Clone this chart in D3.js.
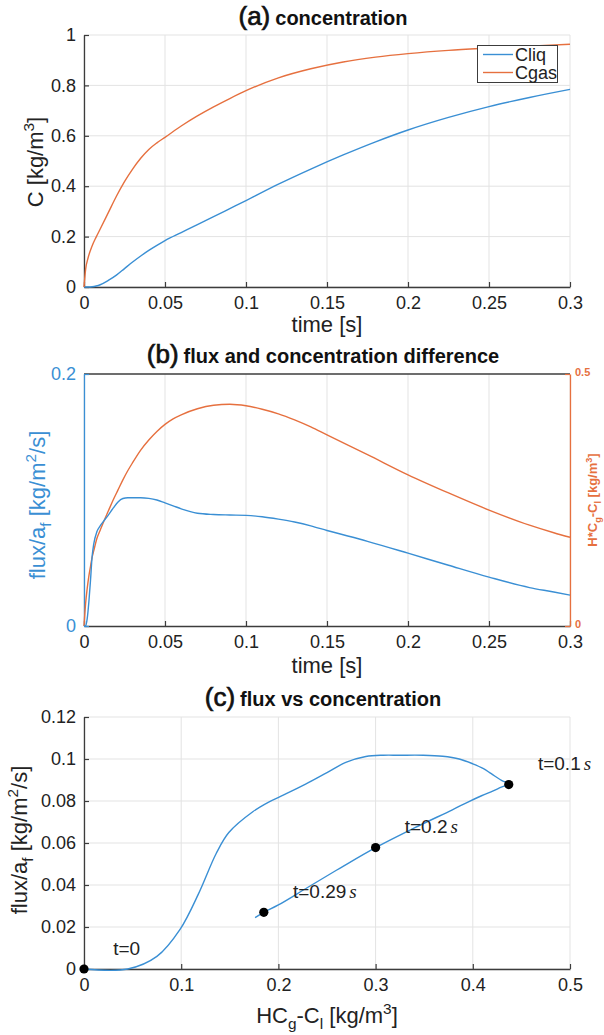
<!DOCTYPE html>
<html>
<head>
<meta charset="utf-8">
<script src="https://cdn.jsdelivr.net/npm/d3@7"></script>
<style>
  body { margin: 0; background: #fff; }
  text { font-family: "Liberation Sans", Arial, Helvetica, sans-serif; }
</style>
</head>
<body>
<svg id="fig" width="604" height="1035"></svg>
<script>
// ---- (a) concentration histories ----
const tConc = [0, 0.001, 0.0025, 0.005, 0.0075, 0.01, 0.015, 0.02, 0.025, 0.03, 0.035, 0.04, 0.045, 0.05,
               0.06, 0.07, 0.08, 0.09, 0.1, 0.12, 0.14, 0.16, 0.18, 0.2, 0.225, 0.25, 0.275, 0.3];
const cLiq  = [0, 0, 0, 0.001, 0.004, 0.009, 0.026, 0.047, 0.073, 0.099, 0.123, 0.145, 0.165, 0.184,
               0.216, 0.248, 0.279, 0.311, 0.343, 0.408, 0.468, 0.524, 0.576, 0.623, 0.673, 0.716, 0.752, 0.784];
const cGas  = [0, 0.07, 0.115, 0.163, 0.198, 0.230, 0.295, 0.360, 0.418, 0.468, 0.511, 0.546, 0.572, 0.594,
               0.639, 0.679, 0.715, 0.748, 0.779, 0.830, 0.866, 0.893, 0.912, 0.926, 0.939, 0.948, 0.956, 0.963];

// ---- (b)/(c) flux and driving concentration difference ----
const tFlux = [0, 0.001, 0.002, 0.003, 0.004, 0.005, 0.006, 0.008, 0.010, 0.012, 0.015, 0.018, 0.021, 0.024,
               0.027, 0.030, 0.035, 0.040, 0.045, 0.050, 0.055, 0.060, 0.070, 0.080, 0.090, 0.100, 0.110,
               0.120, 0.130, 0.140, 0.150, 0.175, 0.200, 0.225, 0.250, 0.275, 0.290, 0.300];
const flux  = [0, 0, 0.006, 0.019, 0.036, 0.055, 0.065, 0.075, 0.0795, 0.083, 0.088, 0.0935, 0.0985, 0.1012,
               0.1018, 0.1018, 0.1018, 0.1013, 0.1000, 0.0977, 0.0954, 0.0930, 0.0895, 0.0885, 0.0881, 0.0878,
               0.0867, 0.0848, 0.0825, 0.0795, 0.0758, 0.0672, 0.0578, 0.0482, 0.0388, 0.0305, 0.0270, 0.0245];
const drive = [0, 0.045, 0.075, 0.099, 0.118, 0.136, 0.149, 0.174, 0.190, 0.206, 0.228, 0.250, 0.270, 0.290,
               0.308, 0.324, 0.349, 0.369, 0.386, 0.400, 0.411, 0.419, 0.431, 0.438, 0.440, 0.437, 0.430,
               0.421, 0.409, 0.395, 0.379, 0.340, 0.300, 0.264, 0.230, 0.200, 0.185, 0.176];

// marked instants on the flux/concentration trajectory
const markTimes  = [0, 0.1, 0.2, 0.29];
const markLabels = ["t=0", "t=0.1", "t=0.2", "t=0.29"];
const markUnits  = ["", "s", "s", "s"];

// ---- ticks ----
const timeTicks   = [0, 0.05, 0.1, 0.15, 0.2, 0.25, 0.3];
const concTicks   = [0, 0.2, 0.4, 0.6, 0.8, 1];
const fluxTicksB  = [0, 0.2];
const driveTicksB = [0, 0.5];
const fluxTicksC  = [0, 0.02, 0.04, 0.06, 0.08, 0.1, 0.12];
const driveTicksC = [0, 0.1, 0.2, 0.3, 0.4, 0.5];
const legendNames = ["Cliq", "Cgas"];

// ---- styling ----
const BLUE = "#3a8fd4", ORANGE = "#e6703f", AXIS = "#3c3c3c", TXT = "#222", GRID = "#e3e3e3";
const TICK_FS = 18, LABEL_FS = 22;
const X0 = 84, X1 = 570;

const svg = d3.select("#fig");
svg.append("rect").attr("width", 604).attr("height", 1035).attr("fill", "#fff");

const fmt = d => String(+(+d).toFixed(3));

// writes text made of plain / sub / sup pieces
function rich(textSel, parts, size) {
  let shift = 0;
  parts.forEach(p => {
    const [str, kind] = p;
    const target = kind === "sub" ? 0.28 * size : kind === "sup" ? -0.4 * size : 0;
    const ts = textSel.append("tspan").text(str).attr("dy", target - shift);
    if (kind) ts.attr("font-size", 0.7 * size);
    shift = target;
  });
  return textSel;
}

function title(y, tag, rest) {
  const t = svg.append("text").attr("x", 323).attr("y", y).attr("text-anchor", "middle")
    .attr("font-weight", "bold").attr("fill", "#111");
  t.append("tspan").attr("font-size", 26).attr("font-weight", "normal").attr("stroke", "#111")
    .attr("stroke-width", 0.7).text(tag);
  t.append("tspan").attr("font-size", 20).attr("dx", 5).text(rest);
}

function grid(g, x, y, xt, yt, top, bottom) {
  g.selectAll("line.gx").data(xt).join("line").attr("class", "gx")
    .attr("x1", d => x(d)).attr("x2", d => x(d)).attr("y1", top).attr("y2", bottom)
    .attr("stroke", GRID).attr("stroke-width", 1);
  if (yt) g.selectAll("line.gy").data(yt).join("line").attr("class", "gy")
    .attr("x1", X0).attr("x2", X1).attr("y1", d => y(d)).attr("y2", d => y(d))
    .attr("stroke", GRID).attr("stroke-width", 1);
}

function styleAxis(g, color, fs, weight) {
  g.select(".domain").attr("stroke", color).attr("stroke-width", 1.3);
  g.selectAll(".tick line").attr("stroke", color).attr("stroke-width", 1.2);
  g.selectAll(".tick text").attr("fill", color).attr("font-size", fs)
    .attr("font-family", "'Liberation Sans', Arial, sans-serif").attr("font-weight", weight || "normal");
}

function bottomAxis(x, y0, ticks) {
  const g = svg.append("g").attr("transform", `translate(0,${y0})`)
    .call(d3.axisBottom(x).tickValues(ticks).tickFormat(fmt).tickSizeInner(-5).tickSizeOuter(0).tickPadding(9));
  styleAxis(g, AXIS, TICK_FS);
  g.selectAll(".tick text").attr("fill", TXT);
  return g;
}
function leftAxis(y, ticks, color) {
  const g = svg.append("g").attr("transform", `translate(${X0},0)`)
    .call(d3.axisLeft(y).tickValues(ticks).tickFormat(fmt).tickSizeInner(-5).tickSizeOuter(0).tickPadding(8));
  styleAxis(g, color || AXIS, TICK_FS);
  if (!color) g.selectAll(".tick text").attr("fill", TXT);
  return g;
}

function yLabel(xBase, yc, parts, color, size, weight) {
  const t = svg.append("text").attr("transform", `translate(${xBase},${yc}) rotate(-90)`)
    .attr("text-anchor", "middle").attr("font-size", size).attr("fill", color)
    .attr("font-weight", weight || "normal");
  return rich(t, parts, size);
}
function xLabel(yBase, parts) {
  const t = svg.append("text").attr("x", 327).attr("y", yBase).attr("text-anchor", "middle")
    .attr("font-size", LABEL_FS).attr("fill", TXT);
  return rich(t, parts, LABEL_FS);
}

// ================= (a) concentration =================
{
  const top = 35, bot = 287;
  const x = d3.scaleLinear().domain([0, 0.3]).range([X0, X1]);
  const y = d3.scaleLinear().domain([0, 1]).range([bot, top]);
  grid(svg.append("g"), x, y, timeTicks, concTicks, top, bot);
  bottomAxis(x, bot, timeTicks);
  leftAxis(y, concTicks);

  const line = d3.line().curve(d3.curveMonotoneX).x(d => x(d[0])).y(d => y(d[1]));
  svg.append("path").datum(tConc.map((t, i) => [t, cLiq[i]])).attr("d", line)
    .attr("fill", "none").attr("stroke", BLUE).attr("stroke-width", 1.4);
  svg.append("path").datum(tConc.map((t, i) => [t, cGas[i]])).attr("d", line)
    .attr("fill", "none").attr("stroke", ORANGE).attr("stroke-width", 1.4);

  // legend
  const lg = svg.append("g");
  lg.append("rect").attr("x", 477.5).attr("y", 45.5).attr("width", 80).attr("height", 37)
    .attr("fill", "#fff").attr("stroke", AXIS).attr("stroke-width", 1);
  [BLUE, ORANGE].forEach((c, i) => {
    const yy = 54.5 + i * 18;
    lg.append("line").attr("x1", 483).attr("x2", 513).attr("y1", yy).attr("y2", yy)
      .attr("stroke", c).attr("stroke-width", 1.4);
    lg.append("text").attr("x", 515).attr("y", yy + 6).attr("font-size", 18).attr("fill", TXT)
      .text(legendNames[i]);
  });

  title(25, "(a)", "concentration");
  xLabel(332, [["time [s]"]]);
  yLabel(43, 162, [["C [kg/m"], ["3", "sup"], ["]"]], TXT, LABEL_FS);
}

// ================= (b) flux and concentration difference =================
{
  const top = 374, bot = 626;
  const x = d3.scaleLinear().domain([0, 0.3]).range([X0, X1]);
  const yL = d3.scaleLinear().domain([0, 0.2]).range([bot, top]);
  const yR = d3.scaleLinear().domain([0, 0.5]).range([bot, top]);
  grid(svg.append("g"), x, null, timeTicks, null, top, bot);
  svg.append("line").attr("x1", X0).attr("x2", X1).attr("y1", top).attr("y2", top)
    .attr("stroke", AXIS).attr("stroke-width", 1.3);
  bottomAxis(x, bot, timeTicks);
  leftAxis(yL, fluxTicksB, BLUE);
  const gR = svg.append("g").attr("transform", `translate(${X1},0)`)
    .call(d3.axisRight(yR).tickValues(driveTicksB).tickFormat(fmt).tickSizeInner(-5).tickSizeOuter(0).tickPadding(5));
  styleAxis(gR, ORANGE, 11, "bold");
  gR.selectAll(".tick text").attr("dy", "0.1em");

  const fl = d3.line().curve(d3.curveMonotoneX).x((d, i) => x(tFlux[i])).y(d => yL(d));
  const dl = d3.line().curve(d3.curveMonotoneX).x((d, i) => x(tFlux[i])).y(d => yR(d));
  svg.append("path").datum(drive).attr("d", dl).attr("fill", "none").attr("stroke", ORANGE).attr("stroke-width", 1.4);
  svg.append("path").datum(flux).attr("d", fl).attr("fill", "none").attr("stroke", BLUE).attr("stroke-width", 1.4);

  title(363, "(b)", "flux and concentration difference");
  xLabel(673, [["time [s]"]]);
  yLabel(45, 505, [["flux/a"], ["f", "sub"], [" [kg/m"], ["2", "sup"], ["/s]"]], BLUE, LABEL_FS);
  yLabel(597, 500, [["H*C"], ["g", "sub"], ["-C"], ["l", "sub"], [" [kg/m"], ["3", "sup"], ["]"]], ORANGE, 13, "bold");
}

// ================= (c) flux vs concentration =================
{
  const top = 717, bot = 969;
  const x = d3.scaleLinear().domain([0, 0.5]).range([X0, X1]);
  const y = d3.scaleLinear().domain([0, 0.12]).range([bot, top]);
  grid(svg.append("g"), x, y, driveTicksC, fluxTicksC, top, bot);
  bottomAxis(x, bot, driveTicksC);
  leftAxis(y, fluxTicksC);

  const pts = tFlux.map((t, i) => [drive[i], flux[i]]);
  svg.append("path").datum(pts)
    .attr("d", d3.line().curve(d3.curveCatmullRom.alpha(0.5)).x(d => x(d[0])).y(d => y(d[1])))
    .attr("fill", "none").attr("stroke", BLUE).attr("stroke-width", 1.4);

  // labelled instants: marker at the sample, text offset by (0.03, 0.01) in data units
  markTimes.forEach((tm, k) => {
    const i = tFlux.indexOf(tm);
    const px = drive[i], py = flux[i];
    svg.append("circle").attr("cx", x(px)).attr("cy", y(py)).attr("r", 4.6).attr("fill", "#000");
    const t = svg.append("text").attr("x", x(px + 0.03)).attr("y", y(py + 0.01)).attr("dy", "0.35em")
      .attr("font-size", 19).attr("fill", TXT);
    t.append("tspan").text(markLabels[k]);
    if (markUnits[k]) t.append("tspan").attr("dx", 3).attr("font-style", "italic")
      .attr("font-family", "'Liberation Serif', 'Times New Roman', serif").text(markUnits[k]);
  });

  title(706, "(c)", "flux vs concentration");
  xLabel(1023, [["HC"], ["g", "sub"], ["-C"], ["l", "sub"], [" [kg/m"], ["3", "sup"], ["]"]]);
  yLabel(27, 840, [["flux/a"], ["f", "sub"], [" [kg/m"], ["2", "sup"], ["/s]"]], TXT, LABEL_FS);
}
</script>
</body>
</html>
